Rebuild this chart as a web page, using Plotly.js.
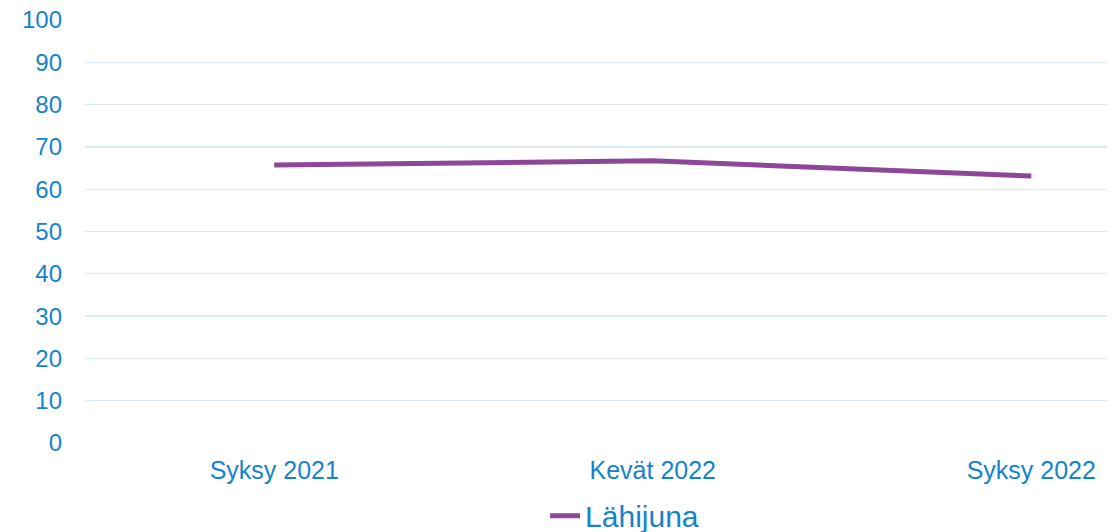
<!DOCTYPE html>
<html>
<head>
<meta charset="utf-8">
<script src="https://cdn.plot.ly/plotly-3.0.1.min.js"></script>
<style>html,body{margin:0;padding:0;background:#fff;}#chart{width:1120px;height:532px;}</style>
</head>
<body>
<div id="chart"></div>
<script>
const categories = ["Syksy 2021", "Kevät 2022", "Syksy 2022"];
const lahijuna = [65.7, 66.7, 63.1];
const yTicks = [0, 10, 20, 30, 40, 50, 60, 70, 80, 90, 100];
const seriesName = "Lähijuna";

const blue = "#1583CC";
const font = "Liberation Sans, Arial, sans-serif";

Plotly.newPlot("chart", [{
  x: categories,
  y: lahijuna,
  type: "scatter",
  mode: "lines",
  name: seriesName,
  line: {color: "#8C4799", width: 5, shape: "spline", smoothing: 0.25}
}], {
  width: 1120,
  height: 532,
  margin: {l: 85, r: 13, t: 20, b: 89, autoexpand: false},
  paper_bgcolor: "#fff",
  plot_bgcolor: "#fff",
  font: {family: font, color: blue},
  showlegend: true,
  xaxis: {
    type: "category",
    range: [-0.5, 2.2],
    showgrid: false,
    zeroline: false,
    showline: false,
    ticks: "",
    tickfont: {size: 25, color: blue, family: font},
    ticklabelstandoff: 10
  },
  yaxis: {
    range: [0, 100],
    tickvals: yTicks,
    showgrid: true,
    gridcolor: "#D8EBFA",
    gridwidth: 1.3,
    zeroline: false,
    showline: false,
    ticks: "",
    tickfont: {size: 24, color: blue, family: font},
    ticklabelstandoff: 22
  },
  legend: {
    orientation: "h",
    xref: "paper", yref: "paper",
    x: 0.528, xanchor: "center",
    y: -0.172, yanchor: "middle",
    font: {size: 30, color: blue, family: font},
    itemwidth: 30
  }
}, {displayModeBar: false, staticPlot: true});
</script>
</body>
</html>
